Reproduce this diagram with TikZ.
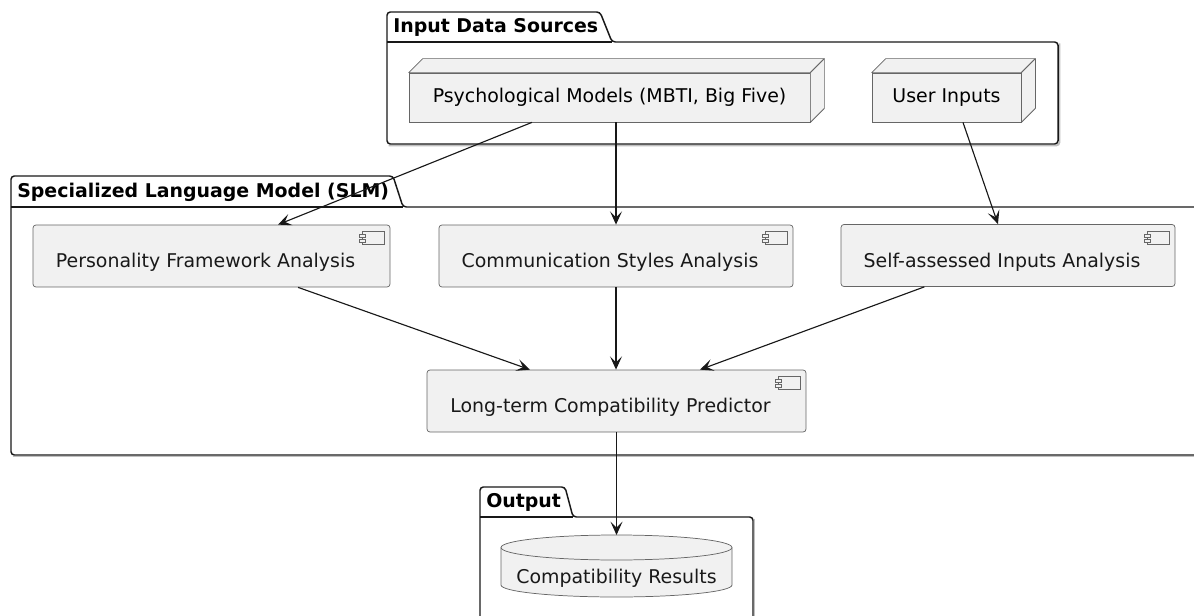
\documentclass[tikz,border=0pt]{standalone}
\usepackage{fontspec}
\setmainfont{DejaVu Sans}
\usetikzlibrary{arrows.meta,calc}
\definecolor{nodefill}{HTML}{F1F1F1}
\definecolor{linec}{HTML}{181818}
\begin{document}
\begin{tikzpicture}[x=0.75pt,y=-0.75pt,
  font=\fontsize{14.2}{17}\selectfont,
  comp/.style={draw=black!60, fill=nodefill, rounded corners=2.2pt, line width=0.55pt, inner sep=0pt, minimum height=46.5pt},
  box3d/.style={draw=black!60, fill=nodefill, line width=0.55pt, inner sep=0pt, minimum height=36.75pt},
  face/.style={draw=black!60, fill=nodefill, line width=0.55pt, line join=round},
  pkg/.style={draw=linec, line width=1.1pt, rounded corners=2.5pt},
  pkgshadow/.style={draw=black!25, line width=1.4pt, rounded corners=2.5pt},
  pkgtitle/.style={font=\fontsize{14.2}{17}\selectfont\bfseries, anchor=west, inner sep=0pt, text=black},
  icon/.style={draw=black!60, line width=0.5pt, fill=nodefill},
  arr/.style={draw=linec, line width=0.85pt, -{Stealth[length=10pt,width=9pt,inset=4.5pt]}},
  lbl/.style={xshift=-4.5pt, yshift=-5pt, inner sep=0pt, text=black!90}
]
\useasboundingbox (0,0) rectangle (1194,616);

% ---------- packages ----------
\draw[pkgshadow] (388.5,145.5) -- (1059.5,145.5) -- (1059.5,43.5);
\draw[pkg] (387,144) -- (387,12) -- (600,12) -- (612,42) -- (1058,42) -- (1058,144) -- cycle;
\draw[pkg] (387,42) -- (612,42);
\node[pkgtitle] (inTitle) at (393,27) {Input Data Sources};

\draw[pkgshadow] (12.5,456.5) -- (1220,456.5);
\draw[pkg] (11,455) -- (11,176) -- (393,176) -- (403,207) -- (1220,207) -- (1220,455) -- cycle;
\draw[pkg] (11,207) -- (403,207);
\node[pkgtitle] (slmTitle) at (17,192) {Specialized Language Model (SLM)};

\draw[pkgshadow] (754.5,518.5) -- (754.5,640);
\draw[pkg] (480,640) -- (480,487) -- (565,487) -- (573,517) -- (753,517) -- (753,640);
\draw[pkg] (480,517) -- (573,517);
\node[pkgtitle] (outTitle) at (486,502) {Output};

% ---------- 3D nodes ----------
\node[box3d, minimum width=300.75pt] (psych) at (609.5,97.5) {Psychological Models (MBTI, Big Five)};
\node[box3d, minimum width=111.75pt] (user) at (946.5,97.5) {User Inputs};
\foreach \n in {psych,user}{
  \draw[face] (\n.north west) -- ++(14,-14) -- ($(\n.north east)+(14,-14)$) -- (\n.north east) -- cycle;
  \draw[face] (\n.north east) -- ++(14,-14) -- ($(\n.south east)+(14,-14)$) -- (\n.south east) -- cycle;
}

% ---------- components ----------
\node[comp, minimum width=267.75pt, label={[lbl]center:Personality Framework Analysis}] (pers) at (211.5,256) {};
\node[comp, minimum width=265.5pt, label={[lbl]center:Communication Styles Analysis}] (comm) at (616,256) {};
\node[comp, minimum width=250.5pt, label={[lbl]center:Self-assessed Inputs Analysis}] (self) at (1008,255.5) {};
\node[comp, minimum width=284.25pt, label={[lbl]center:Long-term Compatibility Predictor}] (long) at (616.5,401) {};
\foreach \n in {pers,comm,self,long}{
  \draw[icon] ($(\n.north east)+(-28,7)$) rectangle ++(22,13);
  \draw[icon] ($(\n.north east)+(-31,10)$) rectangle ++(6,3);
  \draw[icon] ($(\n.north east)+(-31,15)$) rectangle ++(6,3);
}

% ---------- database ----------
\draw[face] (501,547.5) -- (501,585) arc[start angle=180, end angle=360, x radius=115.5, y radius=-12] -- (732,547.5);
\draw[face] (616.5,547.5) ellipse[x radius=115.5, y radius=12.5];
\node[inner sep=0pt, text=black!90] (res) at (616.5,578) {Compatibility Results};
\coordinate (restop) at (616.5,535);

% ---------- connectors ----------
\draw[arr] ($(psych.south west)!0.307!(psych.south east)$) -- ($(pers.north west)!0.686!(pers.north east)$);
\draw[arr] (psych.south -| comm.north) -- (comm.north);
\draw[arr] ($(user.south west)!0.61!(user.south east)$) -- ($(self.north west)!0.47!(self.north east)$);
\draw[arr] ($(pers.south west)!0.742!(pers.south east)$) -- ($(long.north west)!0.272!(long.north east)$);
\draw[arr] (comm.south) -- (comm.south |- long.north);
\draw[arr] ($(self.south west)!0.25!(self.south east)$) -- ($(long.north west)!0.72!(long.north east)$);
\draw[arr] (long.south) -- (restop);
\end{tikzpicture}
\end{document}
